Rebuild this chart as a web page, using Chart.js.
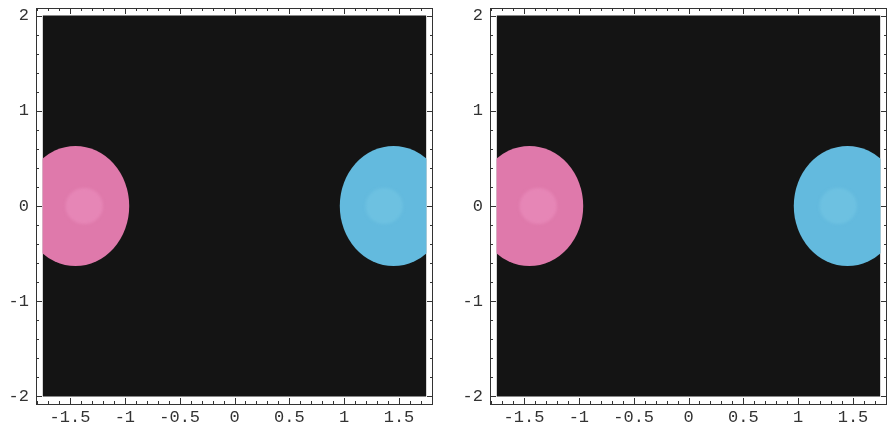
<!DOCTYPE html>
<html><head><meta charset="utf-8">
<script src="https://cdn.jsdelivr.net/npm/chart.js@4"></script>
<style>
html,body{margin:0;padding:0;background:#fff;overflow:hidden;width:888px;height:428px;}
canvas{position:absolute;top:0;}
#c1{left:0;} #c2{left:454px;}
</style></head>
<body>
<canvas id="c1" width="444" height="428" style="width:444px;height:428px"></canvas>
<canvas id="c2" width="434" height="428" style="width:434px;height:428px"></canvas>
<script>
// axis ranges and tick values
const xRange = [-1.81, 1.81];
const yRange = [-2.08, 2.08];
const xTickVals = [-1.5, -1, -0.5, 0, 0.5, 1, 1.5];
const xTickLabels = ['-1.5', '-1', '-0.5', '0', '0.5', '1', '1.5'];
const yTickVals = [-2, -1, 0, 1, 2];
const yTickLabels = ['-2', '-1', '0', '1', '2'];
const xMinorStep = 0.1;
const yMinorStep = 0.2;
// dark background region (data units)
const fieldX = [-1.75, 1.75];
const fieldY = [-2, 2];
// blobs: centre, radii, and inner highlight
const blobNames = ['pink', 'blue'];
const blobCx = [-1.45, 1.45];
const blobCy = [0, 0];
const blobRx = [0.49, 0.49];
const blobRy = [0.63, 0.63];
const blobColors = ['#df79ab', '#63bade'];
const spotCx = [-1.37, 1.365];
const spotCy = [0, 0];
const spotRx = [0.17, 0.17];
const spotRy = [0.19, 0.19];
const spotColors = ['#e686b6', '#6dc1e1'];

const FONT = '"Liberation Mono", "DejaVu Sans Mono", monospace';

const blobPlugin = {
  id: 'blobs',
  afterDatasetsDraw(chart) {
    const {ctx, scales: {x, y}} = chart;
    const l = x.getPixelForValue(fieldX[0]), r = x.getPixelForValue(fieldX[1]);
    const t = y.getPixelForValue(fieldY[1]), b = y.getPixelForValue(fieldY[0]);
    ctx.save();
    ctx.beginPath(); ctx.rect(l, t, r - l, b - t); ctx.clip();
    for (let i = 0; i < blobNames.length; i++) {
      const cx = x.getPixelForValue(blobCx[i]), cy = y.getPixelForValue(blobCy[i]);
      const rx = Math.abs(x.getPixelForValue(blobCx[i] + blobRx[i]) - cx);
      const ry = Math.abs(y.getPixelForValue(blobCy[i] + blobRy[i]) - cy);
      ctx.fillStyle = blobColors[i];
      ctx.beginPath(); ctx.ellipse(cx, cy, rx, ry, 0, 0, Math.PI * 2); ctx.fill();
      const sx = x.getPixelForValue(spotCx[i]), sy = y.getPixelForValue(spotCy[i]);
      const srx = Math.abs(x.getPixelForValue(spotCx[i] + spotRx[i]) - sx);
      const sry = Math.abs(y.getPixelForValue(spotCy[i] + spotRy[i]) - sy);
      ctx.save();
      ctx.filter = 'blur(1.5px)';
      ctx.fillStyle = spotColors[i];
      ctx.beginPath(); ctx.ellipse(sx, sy, srx, sry, 0, 0, Math.PI * 2); ctx.fill();
      ctx.restore();
    }
    ctx.restore();
  },
  afterDraw(chart) {
    const {ctx, chartArea: a, scales: {x, y}} = chart;
    ctx.save();
    ctx.strokeStyle = '#333';
    ctx.lineWidth = 1;
    ctx.strokeRect(Math.round(a.left) + 0.5, Math.round(a.top) + 0.5,
                   Math.round(a.right - a.left) - 1, Math.round(a.bottom - a.top));
    ctx.beginPath();
    const majX = 6, minX = 3;
    for (let k = Math.ceil(xRange[0] / xMinorStep); k * xMinorStep <= xRange[1]; k++) {
      const v = +(k * xMinorStep).toFixed(3);
      const px = Math.round(x.getPixelForValue(v)) + 0.5;
      const major = xTickVals.some(t => Math.abs(t - v) < 1e-6);
      const len = major ? majX : minX;
      ctx.moveTo(px, a.bottom); ctx.lineTo(px, a.bottom - len);
      ctx.moveTo(px, a.top); ctx.lineTo(px, a.top + len);
    }
    for (let k = Math.ceil(yRange[0] / yMinorStep); k * yMinorStep <= yRange[1]; k++) {
      const v = +(k * yMinorStep).toFixed(3);
      const py = Math.round(y.getPixelForValue(v)) + 0.5;
      const major = yTickVals.some(t => Math.abs(t - v) < 1e-6);
      const len = major ? majX : minX;
      ctx.moveTo(a.left, py); ctx.lineTo(a.left + len, py);
      ctx.moveTo(a.right, py); ctx.lineTo(a.right - len, py);
    }
    ctx.stroke();
    ctx.restore();
  }
};

function makeChart(id, padRight) {
  return new Chart(document.getElementById(id), {
    type: 'line',
    data: {
      datasets: [{
        label: 'field',
        data: [{x: fieldX[0], y: fieldY[1]}, {x: fieldX[1], y: fieldY[1]}],
        fill: {value: fieldY[0]},
        backgroundColor: '#141414',
        borderWidth: 0,
        pointRadius: 0,
        tension: 0
      }]
    },
    options: {
      responsive: false,
      animation: false,
      devicePixelRatio: 1,
      layout: {padding: {left: 0, top: 8, right: padRight, bottom: 0}},
      plugins: {legend: {display: false}, tooltip: {enabled: false}},
      scales: {
        x: {
          type: 'linear', min: xRange[0], max: xRange[1],
          grid: {display: false, drawTicks: false},
          border: {display: false},
          afterBuildTicks: s => { s.ticks = xTickVals.map(v => ({value: v})); },
          afterFit: s => { s.height = 24; s.paddingLeft = 0; s.paddingRight = 0; },
          ticks: {
            autoSkip: false, maxRotation: 0, padding: 3,
            color: '#333', font: {family: FONT, size: 17},
            callback: (v) => xTickLabels[xTickVals.indexOf(v)]
          }
        },
        y: {
          type: 'linear', min: yRange[0], max: yRange[1],
          grid: {display: false, drawTicks: false},
          border: {display: false},
          afterBuildTicks: s => { s.ticks = yTickVals.map(v => ({value: v})); },
          afterFit: s => { s.width = 36; s.paddingTop = 0; s.paddingBottom = 0; },
          ticks: {
            autoSkip: false, padding: 7,
            color: '#333', font: {family: FONT, size: 17},
            callback: (v) => yTickLabels[yTickVals.indexOf(v)]
          }
        }
      }
    },
    plugins: [blobPlugin]
  });
}
makeChart('c1', 11);
makeChart('c2', 1);
</script>
</body></html>
